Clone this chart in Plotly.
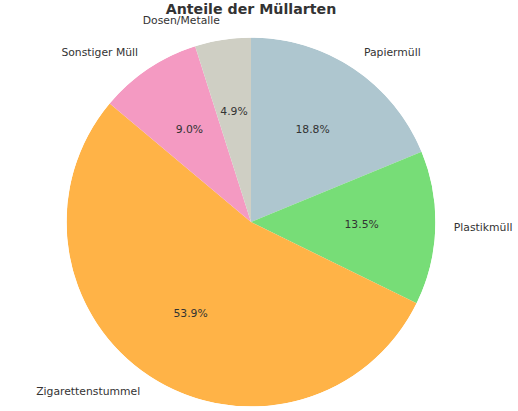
import math
import plotly.graph_objects as go

# Waste categories, clockwise from 12 o'clock
categories = ['Papiermüll', 'Plastikmüll', 'Zigarettenstummel', 'Sonstiger Müll', 'Dosen/Metalle']
shares = [18.8, 13.5, 53.9, 9.0, 4.9]
colors = ['#aec6cf', '#77dd77', '#ffb347', '#f49ac2', '#cfcfc4']

FONT = 'DejaVu Sans'
TEXT_COLOR = '#333333'
PCT_DIST = 0.6     # where the percentages sit, as a fraction of the radius
LABEL_DIST = 1.1   # where the category names sit

W, H = 518, 411
CX, CY, R = 251, 222, 184.5   # pie centre (from top-left) and radius, px

# wedge geometry in degrees, derived from the shares
total = sum(shares)
widths = [s / total * 360 for s in shares]
mids = []
start = 0
for w in widths:
    mids.append(start + w / 2)
    start += w

fig = go.Figure()

# the slices
fig.add_trace(go.Barpolar(
    r=[1] * len(shares),
    theta=mids,
    width=widths,
    marker=dict(color=colors, line=dict(width=0)),
    customdata=categories,
    hovertemplate='%{customdata}<extra></extra>',
    showlegend=False,
))

# percentages inside
fig.add_trace(go.Scatterpolar(
    r=[PCT_DIST] * len(shares),
    theta=mids,
    mode='text',
    text=['%.1f%%' % s for s in shares],
    textposition='middle center',
    textfont=dict(family=FONT, size=10.8, color=TEXT_COLOR),
    hoverinfo='skip',
    showlegend=False,
))

# category names outside the circle; polar drops points beyond its range,
# so these go on a full-page cartesian overlay with the same centre and unit
fig.add_trace(go.Scatter(
    x=[LABEL_DIST * math.sin(math.radians(m)) for m in mids],
    y=[LABEL_DIST * math.cos(math.radians(m)) for m in mids],
    mode='text',
    text=categories,
    textposition=['middle right' if m < 180 else 'middle left' for m in mids],
    textfont=dict(family=FONT, size=10.8, color=TEXT_COLOR),
    cliponaxis=False,
    hoverinfo='skip',
    showlegend=False,
))

fig.update_layout(
    title=dict(
        text='<b>Anteile der Müllarten</b>',
        x=CX / W, xanchor='center',
        y=0.977, yanchor='middle',
        font=dict(family=FONT, size=14.2, color=TEXT_COLOR),
    ),
    polar=dict(
        domain=dict(x=[(CX - R) / W, (CX + R) / W],
                    y=[1 - (CY + R) / H, 1 - (CY - R) / H]),
        bgcolor='rgba(0,0,0,0)',
        bargap=0,
        radialaxis=dict(range=[0, 1], visible=False),
        angularaxis=dict(rotation=90, direction='clockwise', visible=False),
    ),
    xaxis=dict(domain=[0, 1], range=[-CX / R, (W - CX) / R], visible=False),
    yaxis=dict(domain=[0, 1], range=[-(H - CY) / R, CY / R], visible=False),
    width=W,
    height=H,
    margin=dict(l=0, r=0, t=0, b=0),
    paper_bgcolor='white',
    plot_bgcolor='rgba(0,0,0,0)',
)

fig.write_html(
    "out.html",
    config={'displayModeBar': False},
    post_script="document.body.style.margin = '0';",
)
